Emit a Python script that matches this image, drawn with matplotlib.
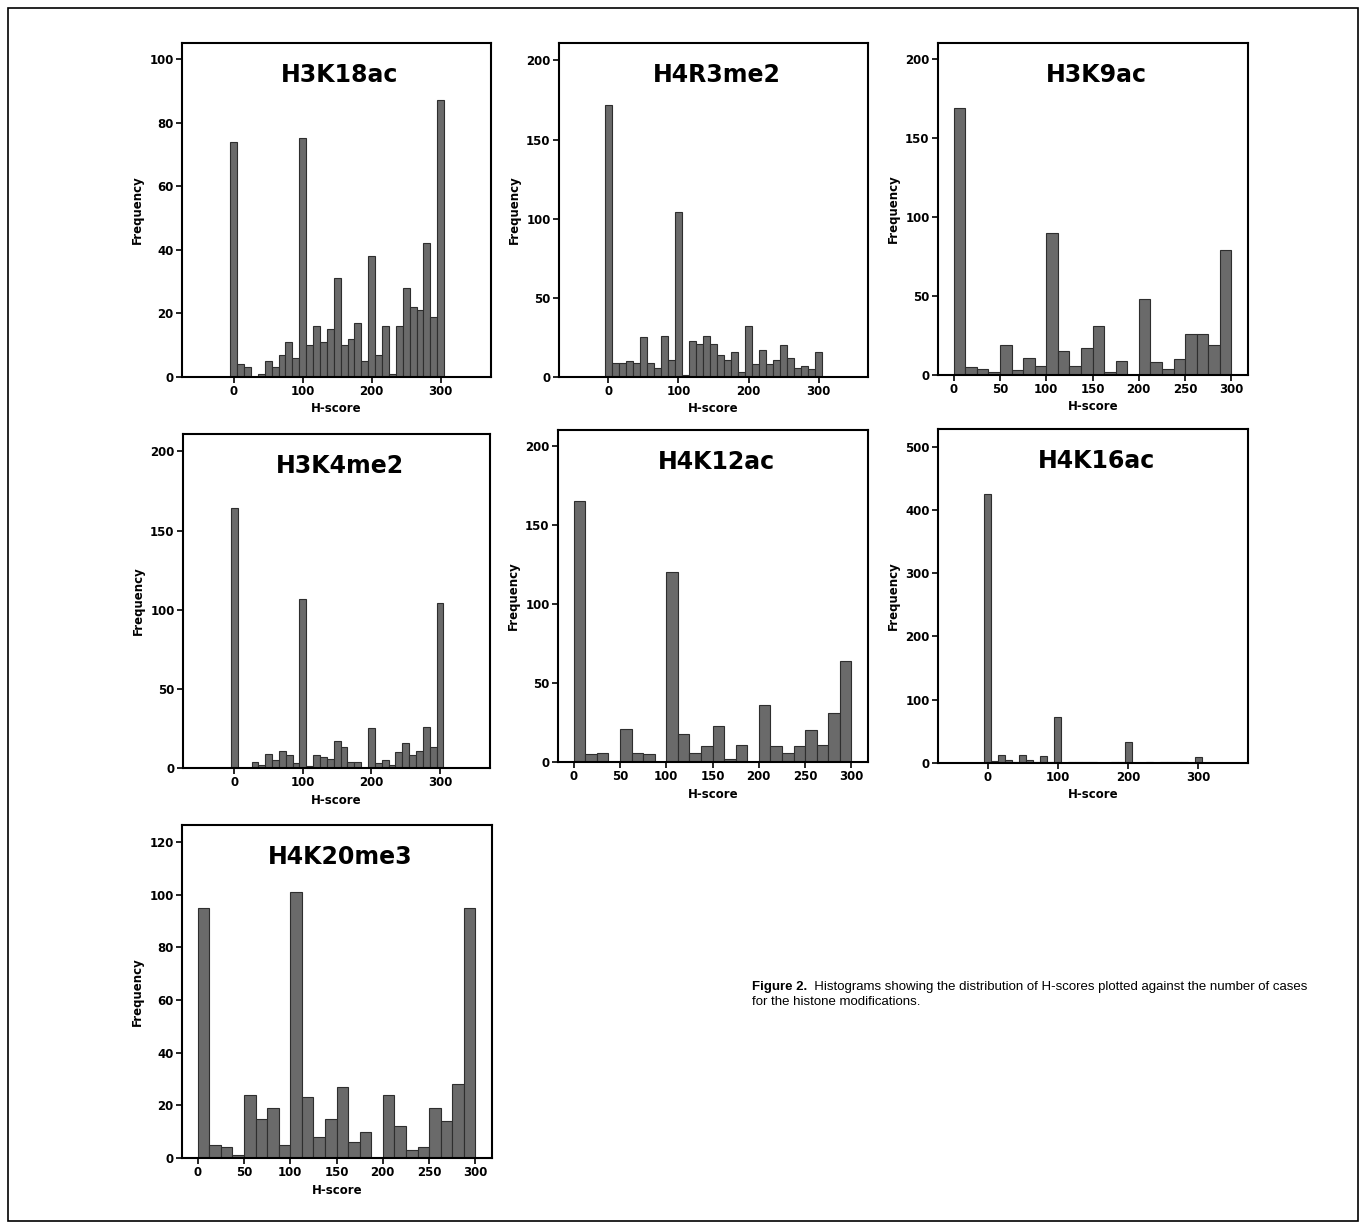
import numpy as np
import matplotlib
matplotlib.use('Agg')
import matplotlib.pyplot as plt
from matplotlib import rcParams

rcParams['font.family'] = 'DejaVu Sans'
rcParams['font.weight'] = 'bold'
rcParams['xtick.labelsize'] = 8.5
rcParams['ytick.labelsize'] = 8.5
rcParams['axes.labelsize'] = 8.5
rcParams['axes.labelweight'] = 'bold'

# bin centres (H-score), two binnings were used in the figure
bins10 = np.arange(0, 301, 10)          # 31 bins, width 10, centred on multiples of 10
bins12 = np.arange(0, 300, 12.5)        # 24 bins, width 12.5, left edges

h3k18ac = [74, 4, 3, 0, 1, 5, 3, 7, 11, 6, 75, 10, 16, 11, 15, 31, 10, 12, 17, 5,
           38, 7, 16, 1, 16, 28, 22, 21, 42, 19, 87]
h4r3me2 = [172, 9, 9, 10, 9, 25, 9, 6, 26, 11, 104, 1, 23, 21, 26, 21, 14, 11, 16, 3,
           32, 8, 17, 8, 11, 20, 12, 6, 7, 5, 16]
h3k9ac = [169, 5, 4, 2, 19, 3, 11, 6, 90, 15, 6, 17, 31, 2, 9, 0, 48, 8, 4, 10,
          26, 26, 19, 79]
h3k4me2 = [164, 0, 0, 4, 2, 9, 5, 11, 8, 3, 107, 1, 8, 7, 6, 17, 13, 4, 4, 0,
           25, 3, 5, 2, 10, 16, 8, 11, 26, 13, 104]
h4k12ac = [165, 5, 6, 0, 21, 6, 5, 0, 120, 18, 6, 10, 23, 2, 11, 0, 36, 10, 6, 10,
           20, 11, 31, 64]
h4k16ac = [426, 3, 12, 5, 2, 13, 4, 2, 11, 1, 72, 0, 2, 1, 2, 2, 0, 0, 1, 1,
           33, 0, 0, 1, 0, 1, 1, 1, 2, 0, 9]
h4k20me3 = [95, 5, 4, 1, 24, 15, 19, 5, 101, 23, 8, 15, 27, 6, 10, 0, 24, 12, 3, 4,
            19, 14, 28, 95]

W, H = 1366, 1229
fig = plt.figure(figsize=(W / 100, H / 100), dpi=100)
fig.patch.set_facecolor('white')


def add_ax(l, r, t, b):
    return fig.add_axes([l / W, 1 - b / H, (r - l) / W, (b - t) / H])


def panel(box, title, counts, narrow, ylim, yticks, xlim, xticks):
    ax = add_ax(*box)
    if narrow:
        ax.bar(bins10, counts, width=10, align='center', color='#6a6a6a',
               edgecolor='#2e2e2e', linewidth=0.8)
    else:
        ax.bar(bins12, counts, width=12.5, align='edge', color='#6a6a6a',
               edgecolor='#2e2e2e', linewidth=0.8)
    ax.set_xlim(*xlim)
    ax.set_ylim(*ylim)
    ax.set_xticks(xticks)
    ax.set_yticks(yticks)
    ax.tick_params(direction='out', length=4, width=1.2, pad=2)
    for s in ax.spines.values():
        s.set_linewidth(1.5)
    ax.set_xlabel('H-score', labelpad=3)
    ax.set_ylabel('Frequency', labelpad=4)
    ax.text(0.51, 0.905, title, transform=ax.transAxes, ha='center', va='center',
            fontsize=17, fontweight='bold')
    return ax


wide_x = (-75, 373)
short_x = (-17, 318)
panel((182, 491, 43, 377), 'H3K18ac', h3k18ac, True, (0, 105), range(0, 101, 20),
      wide_x, [0, 100, 200, 300])
panel((559, 868, 43, 377), 'H4R3me2', h4r3me2, True, (0, 211), range(0, 201, 50),
      (-70, 370), [0, 100, 200, 300])
panel((938, 1248, 43, 375), 'H3K9ac', h3k9ac, False, (0, 210), range(0, 201, 50),
      short_x, range(0, 301, 50))
panel((183, 490, 434, 768), 'H3K4me2', h3k4me2, True, (0, 211), range(0, 201, 50),
      wide_x, [0, 100, 200, 300])
panel((558, 868, 430, 762), 'H4K12ac', h4k12ac, False, (0, 210), range(0, 201, 50),
      short_x, range(0, 301, 50))
panel((938, 1248, 429, 763), 'H4K16ac', h4k16ac, True, (0, 528), range(0, 501, 100),
      (-71, 371), [0, 100, 200, 300])
panel((182, 492, 825, 1158), 'H4K20me3', h4k20me3, False, (0, 126.5), range(0, 121, 20),
      short_x, range(0, 301, 50))

# caption
cap = fig.text(752 / W, 1 - 990 / H, 'Figure 2.', fontsize=9.5, fontweight='bold',
               family='Liberation Sans', ha='left', va='baseline')
fig.add_artist(matplotlib.text.Annotation(
    '  Histograms showing the distribution of H-scores plotted against the number of cases',
    xy=(1, 0), xycoords=cap, xytext=(0, 0), textcoords='offset points',
    ha='left', va='bottom', fontsize=9.5, fontweight='normal',
    family='Liberation Sans', annotation_clip=False))
fig.text(752 / W, 1 - 1005 / H, 'for the histone modifications.', fontsize=9.5,
         fontweight='normal', family='Liberation Sans', ha='left', va='baseline')

# outer frame
fig.patches.append(plt.Rectangle((8 / W, 1 - 1221 / H), 1350 / W, 1213 / H,
                                 transform=fig.transFigure, fill=False,
                                 edgecolor='black', linewidth=1.2))

fig.savefig('out.png', dpi=100, facecolor='white')
